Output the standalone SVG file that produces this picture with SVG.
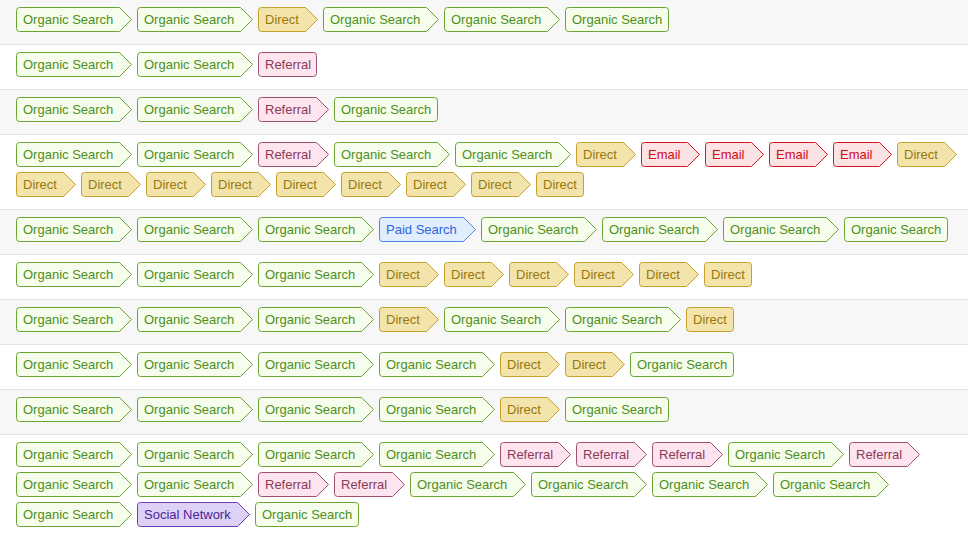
<svg xmlns="http://www.w3.org/2000/svg" xmlns:xlink="http://www.w3.org/1999/xlink" width="968" height="537" viewBox="0 0 968 537">
<style>
text{font-family:"Liberation Sans",Arial,sans-serif;font-size:13px}
.o{fill:#f6fdec;stroke:#6aa532}.ot{fill:#4e8f1c}
.d{fill:#f3e4ab;stroke:#c4a02c}.dt{fill:#98780e}
.r{fill:#fde4ef;stroke:#a0506f}.rt{fill:#8a3b5a}
.e{fill:#fde2e3;stroke:#d8141f}.et{fill:#cf0a1a}
.p{fill:#e2edfd;stroke:#4b85e6}.pt{fill:#2a67dd}
.s{fill:#ddd2f6;stroke:#6a3fb8}.st{fill:#4c2496}
.sep{stroke:#e2e2e2;stroke-width:1}
</style>
<defs>
<path id="aO" d="M3.5,0.5H103.5L115.5,12.5L103.5,24.5H3.5Q0.5,24.5 0.5,21.5V3.5Q0.5,0.5 3.5,0.5Z"/>
<path id="aD" d="M3.5,0.5H47.5L59.5,12.5L47.5,24.5H3.5Q0.5,24.5 0.5,21.5V3.5Q0.5,0.5 3.5,0.5Z"/>
<path id="aR" d="M3.5,0.5H58.5L70.5,12.5L58.5,24.5H3.5Q0.5,24.5 0.5,21.5V3.5Q0.5,0.5 3.5,0.5Z"/>
<path id="aE" d="M3.5,0.5H46.5L58.5,12.5L46.5,24.5H3.5Q0.5,24.5 0.5,21.5V3.5Q0.5,0.5 3.5,0.5Z"/>
<path id="aP" d="M3.5,0.5H84.5L96.5,12.5L84.5,24.5H3.5Q0.5,24.5 0.5,21.5V3.5Q0.5,0.5 3.5,0.5Z"/>
<path id="aS" d="M3.5,0.5H100.5L112.5,12.5L100.5,24.5H3.5Q0.5,24.5 0.5,21.5V3.5Q0.5,0.5 3.5,0.5Z"/>
<rect id="eO" x="0.5" y="0.5" width="103" height="24" rx="3"/>
<rect id="eD" x="0.5" y="0.5" width="47" height="24" rx="3"/>
<rect id="eR" x="0.5" y="0.5" width="58" height="24" rx="3"/>
</defs>
<g id="bg">
<rect x="0" y="0" width="968" height="44" fill="#f7f7f7"/>
<rect x="0" y="90" width="968" height="44" fill="#f7f7f7"/>
<rect x="0" y="210" width="968" height="44" fill="#f7f7f7"/>
<rect x="0" y="300" width="968" height="44" fill="#f7f7f7"/>
<rect x="0" y="390" width="968" height="44" fill="#f7f7f7"/>
<g class="sep">
<line x1="0" x2="968" y1="44.5" y2="44.5"/><line x1="0" x2="968" y1="89.5" y2="89.5"/><line x1="0" x2="968" y1="134.5" y2="134.5"/><line x1="0" x2="968" y1="209.5" y2="209.5"/><line x1="0" x2="968" y1="254.5" y2="254.5"/><line x1="0" x2="968" y1="299.5" y2="299.5"/><line x1="0" x2="968" y1="344.5" y2="344.5"/><line x1="0" x2="968" y1="389.5" y2="389.5"/><line x1="0" x2="968" y1="434.5" y2="434.5"/>
</g>
</g>
<g id="connectors"></g>
<g id="nodes">
<!-- row 1 -->
<g id="n1_1"><use href="#aO" class="o" x="16" y="7"/><text class="ot" x="23" y="24">Organic Search</text></g>
<g id="n1_2"><use href="#aO" class="o" x="137" y="7"/><text class="ot" x="144" y="24">Organic Search</text></g>
<g id="n1_3"><use href="#aD" class="d" x="258" y="7"/><text class="dt" x="265" y="24">Direct</text></g>
<g id="n1_4"><use href="#aO" class="o" x="323" y="7"/><text class="ot" x="330" y="24">Organic Search</text></g>
<g id="n1_5"><use href="#aO" class="o" x="444" y="7"/><text class="ot" x="451" y="24">Organic Search</text></g>
<g id="n1_6"><use href="#eO" class="o" x="565" y="7"/><text class="ot" x="572" y="24">Organic Search</text></g>
<!-- row 2 -->
<g id="n2_1"><use href="#aO" class="o" x="16" y="52"/><text class="ot" x="23" y="69">Organic Search</text></g>
<g id="n2_2"><use href="#aO" class="o" x="137" y="52"/><text class="ot" x="144" y="69">Organic Search</text></g>
<g id="n2_3"><use href="#eR" class="r" x="258" y="52"/><text class="rt" x="265" y="69">Referral</text></g>
<!-- row 3 -->
<g id="n3_1"><use href="#aO" class="o" x="16" y="97"/><text class="ot" x="23" y="114">Organic Search</text></g>
<g id="n3_2"><use href="#aO" class="o" x="137" y="97"/><text class="ot" x="144" y="114">Organic Search</text></g>
<g id="n3_3"><use href="#aR" class="r" x="258" y="97"/><text class="rt" x="265" y="114">Referral</text></g>
<g id="n3_4"><use href="#eO" class="o" x="334" y="97"/><text class="ot" x="341" y="114">Organic Search</text></g>
<!-- row 4 -->
<g id="n4_1"><use href="#aO" class="o" x="16" y="142"/><text class="ot" x="23" y="159">Organic Search</text></g>
<g id="n4_2"><use href="#aO" class="o" x="137" y="142"/><text class="ot" x="144" y="159">Organic Search</text></g>
<g id="n4_3"><use href="#aR" class="r" x="258" y="142"/><text class="rt" x="265" y="159">Referral</text></g>
<g id="n4_4"><use href="#aO" class="o" x="334" y="142"/><text class="ot" x="341" y="159">Organic Search</text></g>
<g id="n4_5"><use href="#aO" class="o" x="455" y="142"/><text class="ot" x="462" y="159">Organic Search</text></g>
<g id="n4_6"><use href="#aD" class="d" x="576" y="142"/><text class="dt" x="583" y="159">Direct</text></g>
<g id="n4_7"><use href="#aE" class="e" x="641" y="142"/><text class="et" x="648" y="159">Email</text></g>
<g id="n4_8"><use href="#aE" class="e" x="705" y="142"/><text class="et" x="712" y="159">Email</text></g>
<g id="n4_9"><use href="#aE" class="e" x="769" y="142"/><text class="et" x="776" y="159">Email</text></g>
<g id="n4_10"><use href="#aE" class="e" x="833" y="142"/><text class="et" x="840" y="159">Email</text></g>
<g id="n4_11"><use href="#aD" class="d" x="897" y="142"/><text class="dt" x="904" y="159">Direct</text></g>
<g id="n4_12"><use href="#aD" class="d" x="16" y="172"/><text class="dt" x="23" y="189">Direct</text></g>
<g id="n4_13"><use href="#aD" class="d" x="81" y="172"/><text class="dt" x="88" y="189">Direct</text></g>
<g id="n4_14"><use href="#aD" class="d" x="146" y="172"/><text class="dt" x="153" y="189">Direct</text></g>
<g id="n4_15"><use href="#aD" class="d" x="211" y="172"/><text class="dt" x="218" y="189">Direct</text></g>
<g id="n4_16"><use href="#aD" class="d" x="276" y="172"/><text class="dt" x="283" y="189">Direct</text></g>
<g id="n4_17"><use href="#aD" class="d" x="341" y="172"/><text class="dt" x="348" y="189">Direct</text></g>
<g id="n4_18"><use href="#aD" class="d" x="406" y="172"/><text class="dt" x="413" y="189">Direct</text></g>
<g id="n4_19"><use href="#aD" class="d" x="471" y="172"/><text class="dt" x="478" y="189">Direct</text></g>
<g id="n4_20"><use href="#eD" class="d" x="536" y="172"/><text class="dt" x="543" y="189">Direct</text></g>
<!-- row 5 -->
<g id="n5_1"><use href="#aO" class="o" x="16" y="217"/><text class="ot" x="23" y="234">Organic Search</text></g>
<g id="n5_2"><use href="#aO" class="o" x="137" y="217"/><text class="ot" x="144" y="234">Organic Search</text></g>
<g id="n5_3"><use href="#aO" class="o" x="258" y="217"/><text class="ot" x="265" y="234">Organic Search</text></g>
<g id="n5_4"><use href="#aP" class="p" x="379" y="217"/><text class="pt" x="386" y="234">Paid Search</text></g>
<g id="n5_5"><use href="#aO" class="o" x="481" y="217"/><text class="ot" x="488" y="234">Organic Search</text></g>
<g id="n5_6"><use href="#aO" class="o" x="602" y="217"/><text class="ot" x="609" y="234">Organic Search</text></g>
<g id="n5_7"><use href="#aO" class="o" x="723" y="217"/><text class="ot" x="730" y="234">Organic Search</text></g>
<g id="n5_8"><use href="#eO" class="o" x="844" y="217"/><text class="ot" x="851" y="234">Organic Search</text></g>
<!-- row 6 -->
<g id="n6_1"><use href="#aO" class="o" x="16" y="262"/><text class="ot" x="23" y="279">Organic Search</text></g>
<g id="n6_2"><use href="#aO" class="o" x="137" y="262"/><text class="ot" x="144" y="279">Organic Search</text></g>
<g id="n6_3"><use href="#aO" class="o" x="258" y="262"/><text class="ot" x="265" y="279">Organic Search</text></g>
<g id="n6_4"><use href="#aD" class="d" x="379" y="262"/><text class="dt" x="386" y="279">Direct</text></g>
<g id="n6_5"><use href="#aD" class="d" x="444" y="262"/><text class="dt" x="451" y="279">Direct</text></g>
<g id="n6_6"><use href="#aD" class="d" x="509" y="262"/><text class="dt" x="516" y="279">Direct</text></g>
<g id="n6_7"><use href="#aD" class="d" x="574" y="262"/><text class="dt" x="581" y="279">Direct</text></g>
<g id="n6_8"><use href="#aD" class="d" x="639" y="262"/><text class="dt" x="646" y="279">Direct</text></g>
<g id="n6_9"><use href="#eD" class="d" x="704" y="262"/><text class="dt" x="711" y="279">Direct</text></g>
<!-- row 7 -->
<g id="n7_1"><use href="#aO" class="o" x="16" y="307"/><text class="ot" x="23" y="324">Organic Search</text></g>
<g id="n7_2"><use href="#aO" class="o" x="137" y="307"/><text class="ot" x="144" y="324">Organic Search</text></g>
<g id="n7_3"><use href="#aO" class="o" x="258" y="307"/><text class="ot" x="265" y="324">Organic Search</text></g>
<g id="n7_4"><use href="#aD" class="d" x="379" y="307"/><text class="dt" x="386" y="324">Direct</text></g>
<g id="n7_5"><use href="#aO" class="o" x="444" y="307"/><text class="ot" x="451" y="324">Organic Search</text></g>
<g id="n7_6"><use href="#aO" class="o" x="565" y="307"/><text class="ot" x="572" y="324">Organic Search</text></g>
<g id="n7_7"><use href="#eD" class="d" x="686" y="307"/><text class="dt" x="693" y="324">Direct</text></g>
<!-- row 8 -->
<g id="n8_1"><use href="#aO" class="o" x="16" y="352"/><text class="ot" x="23" y="369">Organic Search</text></g>
<g id="n8_2"><use href="#aO" class="o" x="137" y="352"/><text class="ot" x="144" y="369">Organic Search</text></g>
<g id="n8_3"><use href="#aO" class="o" x="258" y="352"/><text class="ot" x="265" y="369">Organic Search</text></g>
<g id="n8_4"><use href="#aO" class="o" x="379" y="352"/><text class="ot" x="386" y="369">Organic Search</text></g>
<g id="n8_5"><use href="#aD" class="d" x="500" y="352"/><text class="dt" x="507" y="369">Direct</text></g>
<g id="n8_6"><use href="#aD" class="d" x="565" y="352"/><text class="dt" x="572" y="369">Direct</text></g>
<g id="n8_7"><use href="#eO" class="o" x="630" y="352"/><text class="ot" x="637" y="369">Organic Search</text></g>
<!-- row 9 -->
<g id="n9_1"><use href="#aO" class="o" x="16" y="397"/><text class="ot" x="23" y="414">Organic Search</text></g>
<g id="n9_2"><use href="#aO" class="o" x="137" y="397"/><text class="ot" x="144" y="414">Organic Search</text></g>
<g id="n9_3"><use href="#aO" class="o" x="258" y="397"/><text class="ot" x="265" y="414">Organic Search</text></g>
<g id="n9_4"><use href="#aO" class="o" x="379" y="397"/><text class="ot" x="386" y="414">Organic Search</text></g>
<g id="n9_5"><use href="#aD" class="d" x="500" y="397"/><text class="dt" x="507" y="414">Direct</text></g>
<g id="n9_6"><use href="#eO" class="o" x="565" y="397"/><text class="ot" x="572" y="414">Organic Search</text></g>
<!-- row 10 -->
<g id="n10_1"><use href="#aO" class="o" x="16" y="442"/><text class="ot" x="23" y="459">Organic Search</text></g>
<g id="n10_2"><use href="#aO" class="o" x="137" y="442"/><text class="ot" x="144" y="459">Organic Search</text></g>
<g id="n10_3"><use href="#aO" class="o" x="258" y="442"/><text class="ot" x="265" y="459">Organic Search</text></g>
<g id="n10_4"><use href="#aO" class="o" x="379" y="442"/><text class="ot" x="386" y="459">Organic Search</text></g>
<g id="n10_5"><use href="#aR" class="r" x="500" y="442"/><text class="rt" x="507" y="459">Referral</text></g>
<g id="n10_6"><use href="#aR" class="r" x="576" y="442"/><text class="rt" x="583" y="459">Referral</text></g>
<g id="n10_7"><use href="#aR" class="r" x="652" y="442"/><text class="rt" x="659" y="459">Referral</text></g>
<g id="n10_8"><use href="#aO" class="o" x="728" y="442"/><text class="ot" x="735" y="459">Organic Search</text></g>
<g id="n10_9"><use href="#aR" class="r" x="849" y="442"/><text class="rt" x="856" y="459">Referral</text></g>
<g id="n10_10"><use href="#aO" class="o" x="16" y="472"/><text class="ot" x="23" y="489">Organic Search</text></g>
<g id="n10_11"><use href="#aO" class="o" x="137" y="472"/><text class="ot" x="144" y="489">Organic Search</text></g>
<g id="n10_12"><use href="#aR" class="r" x="258" y="472"/><text class="rt" x="265" y="489">Referral</text></g>
<g id="n10_13"><use href="#aR" class="r" x="334" y="472"/><text class="rt" x="341" y="489">Referral</text></g>
<g id="n10_14"><use href="#aO" class="o" x="410" y="472"/><text class="ot" x="417" y="489">Organic Search</text></g>
<g id="n10_15"><use href="#aO" class="o" x="531" y="472"/><text class="ot" x="538" y="489">Organic Search</text></g>
<g id="n10_16"><use href="#aO" class="o" x="652" y="472"/><text class="ot" x="659" y="489">Organic Search</text></g>
<g id="n10_17"><use href="#aO" class="o" x="773" y="472"/><text class="ot" x="780" y="489">Organic Search</text></g>
<g id="n10_18"><use href="#aO" class="o" x="16" y="502"/><text class="ot" x="23" y="519">Organic Search</text></g>
<g id="n10_19"><use href="#aS" class="s" x="137" y="502"/><text class="st" x="144" y="519">Social Network</text></g>
<g id="n10_20"><use href="#eO" class="o" x="255" y="502"/><text class="ot" x="262" y="519">Organic Search</text></g>
</g>
</svg>
